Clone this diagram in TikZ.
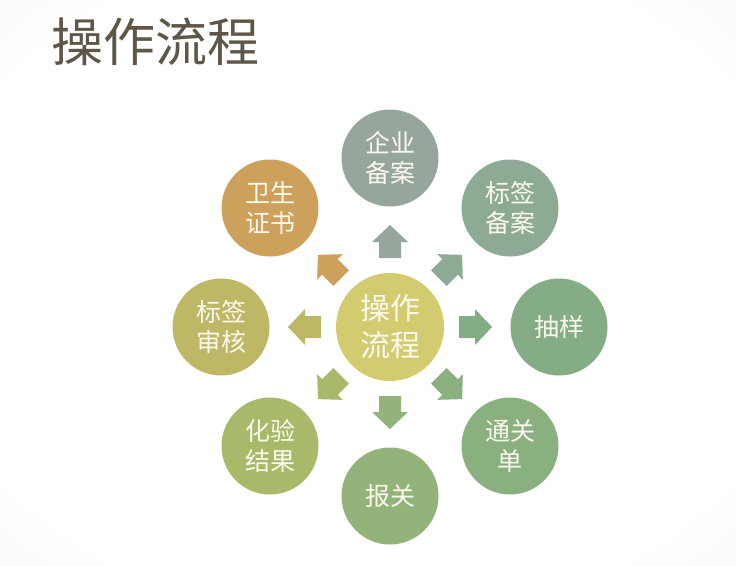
\documentclass[tikz,border=0pt]{standalone}
\usepackage{fontspec}
\newfontfamily\cjk{Noto Sans CJK SC}
\definecolor{titlec}{HTML}{5E5748}
\definecolor{textc}{HTML}{FBF9EE}
\definecolor{cC}{HTML}{D3CB6F}
\definecolor{c1}{HTML}{96A69C}
\definecolor{c2}{HTML}{8DAA94}
\definecolor{c3}{HTML}{84AC85}
\definecolor{c4}{HTML}{8AB07F}
\definecolor{c5}{HTML}{92B37A}
\definecolor{c6}{HTML}{A8BA69}
\definecolor{c7}{HTML}{BEB866}
\definecolor{c8}{HTML}{CDA15C}
\pgfdeclareradialshading{vign}{\pgfpoint{0bp}{0bp}}{color(0bp)=(white); color(30bp)=(white); color(50bp)=(black!7); color(72bp)=(black!20)}
\tikzset{
  hub/.style={circle, fill=cC, minimum size=108pt, inner sep=0pt, text=textc, align=center,
    font=\cjk\fontsize{30}{37}\selectfont},
  leaf/.style={circle, minimum size=97pt, inner sep=0pt, text=textc, align=center,
    font=\cjk\fontsize{25}{30}\selectfont},
  titlestyle/.style={anchor=west, inner sep=0pt, text=titlec, font=\cjk\fontsize{52}{60}\selectfont}
}
\begin{document}
\begin{tikzpicture}[x=1pt,y=-1pt]
\shade[shading=vign] (0,0) rectangle (736,565);
\useasboundingbox (0,0) rectangle (736,565);
\node[titlestyle] (title) at (51,42) {操作流程};
\node[hub] (ctr) at (390,327) {操作\\流程};
\node[leaf, fill=c1] (n1) at (390,158) {企业\\备案};
\node[leaf, fill=c2] (n2) at (510,208) {标签\\备案};
\node[leaf, fill=c3] (n3) at (559,327) {抽样};
\node[leaf, fill=c4] (n4) at (510,446) {通关\\单};
\node[leaf, fill=c5] (n5) at (390,496) {报关};
\node[leaf, fill=c6] (n6) at (270,446) {化验\\结果};
\node[leaf, fill=c7] (n7) at (221,327) {标签\\审核};
\node[leaf, fill=c8] (n8) at (270,208) {卫生\\证书};
\foreach \ang/\col in {90/c1,45/c2,0/c3,-45/c4,-90/c5,-135/c6,180/c7,135/c8}{
  \fill[\col, shift={(ctr)}, rotate=\ang]
    (69,-11) -- (85,-11) -- (85,-18) -- (102,0) -- (85,18) -- (85,11) -- (69,11) -- cycle;
}
\end{tikzpicture}
\end{document}
